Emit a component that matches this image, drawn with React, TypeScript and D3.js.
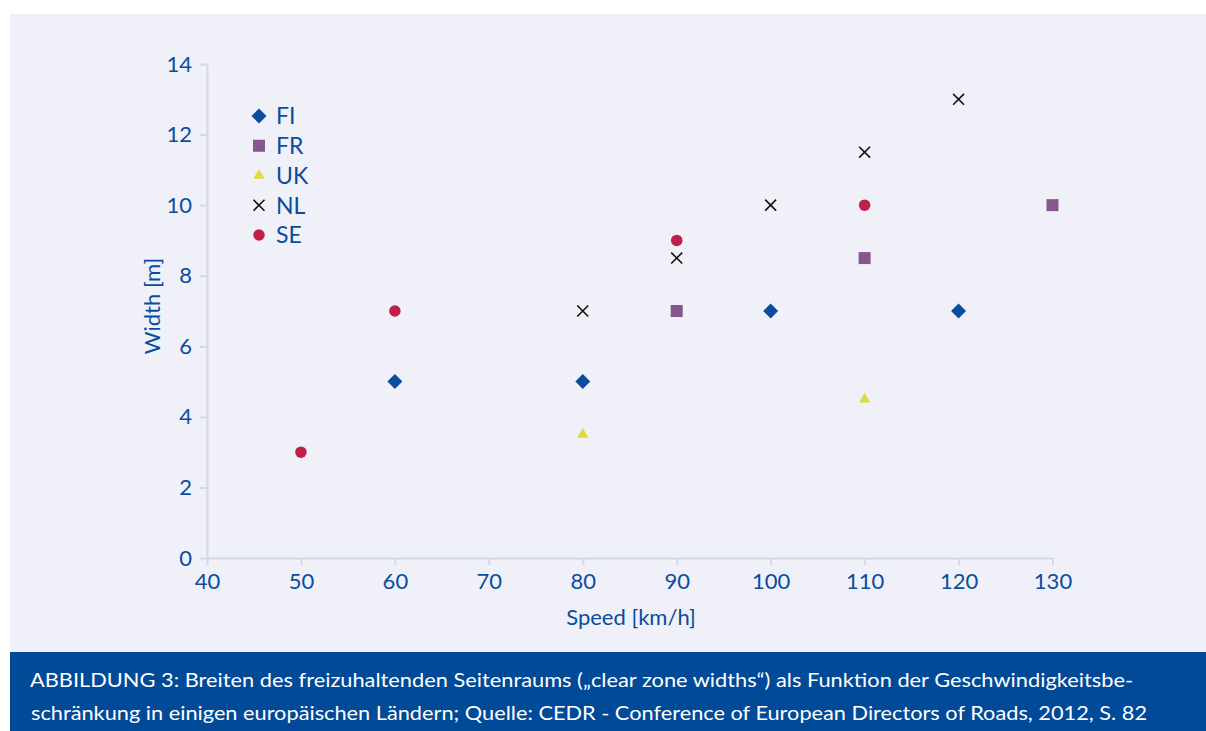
import { useEffect, useRef } from "react"
import * as d3 from "d3"

// series
const countries = ["FI", "FR", "UK", "NL", "SE"]
const fiSpeed = [60, 80, 100, 120]
const fiWidth = [5, 5, 7, 7]
const frSpeed = [90, 110, 130]
const frWidth = [7, 8.5, 10]
const ukSpeed = [80, 110]
const ukWidth = [3.5, 4.5]
const nlSpeed = [80, 90, 100, 110, 120]
const nlWidth = [7, 8.5, 10, 11.5, 13]
const seSpeed = [50, 60, 90, 110]
const seWidth = [3, 7, 9, 10]

const xTicks = [40, 50, 60, 70, 80, 90, 100, 110, 120, 130]
const yTicks = [0, 2, 4, 6, 8, 10, 12, 14]

const captionLines = [
  "ABBILDUNG 3: Breiten des freizuhaltenden Seitenraums (\u201Eclear zone widths\u201C) als Funktion der Geschwindigkeitsbe-",
  "schr\u00E4nkung in einigen europ\u00E4ischen L\u00E4ndern; Quelle: CEDR - Conference of European Directors of Roads, 2012, S. 82",
]

const W = 1206
const H = 731
const BLUE = "#0b4c9e"
const AXIS = "#d4d6ec"
const FONT = "Lato, 'Open Sans', sans-serif"

const styles: Record<string, { fill: string; stroke?: string; type: d3.SymbolType; size: number; rotate?: number }> = {
  FI: { fill: "#0a4d9c", type: d3.symbolSquare, size: 112, rotate: 45 },
  FR: { fill: "#86578d", type: d3.symbolSquare, size: 144 },
  UK: { fill: "#dcdc3c", type: d3.symbolTriangle, size: 55 },
  NL: { fill: "none", stroke: "#111", type: d3.symbolX, size: 80 },
  SE: { fill: "#c01f4a", type: d3.symbolCircle, size: 104 },
}

const series = [
  { key: "FI", xs: fiSpeed, ys: fiWidth },
  { key: "FR", xs: frSpeed, ys: frWidth },
  { key: "UK", xs: ukSpeed, ys: ukWidth },
  { key: "NL", xs: nlSpeed, ys: nlWidth },
  { key: "SE", xs: seSpeed, ys: seWidth },
]

export default function App() {
  const xAxisRef = useRef<SVGGElement>(null)
  const yAxisRef = useRef<SVGGElement>(null)

  const x = d3.scaleLinear().domain([40, 130]).range([207, 1052.5])
  const y = d3.scaleLinear().domain([0, 14]).range([558, 64])
  const legendY = d3.scalePoint<string>().domain(countries).range([116, 235])

  useEffect(() => {
    const styleAxis = (g: d3.Selection<SVGGElement, unknown, null, undefined>) => {
      g.select(".domain").attr("stroke", AXIS).attr("stroke-width", 2)
      g.selectAll(".tick line").attr("stroke", AXIS).attr("stroke-width", 2)
      g.selectAll(".tick text")
        .attr("fill", BLUE)
        .attr("font-family", FONT)
        .attr("font-size", 22)
    }
    if (xAxisRef.current) {
      const g = d3.select(xAxisRef.current)
      g.selectAll("*").remove()
      g.call(d3.axisBottom(x).tickValues(xTicks).tickSize(7).tickSizeOuter(0).tickPadding(8))
      g.attr("font-family", null).attr("font-size", null)
      styleAxis(g)
    }
    if (yAxisRef.current) {
      const g = d3.select(yAxisRef.current)
      g.selectAll("*").remove()
      g.call(d3.axisLeft(y).tickValues(yTicks).tickSize(7).tickSizeOuter(0).tickPadding(8))
      g.attr("font-family", null).attr("font-size", null)
      styleAxis(g)
    }
  }, [])

  const symbolPath = (key: string) => d3.symbol().type(styles[key].type).size(styles[key].size)() || ""

  const marker = (key: string, cx: number, cy: number, i: number) => {
    const s = styles[key]
    return (
      <path
        key={`${key}-${i}`}
        d={symbolPath(key)}
        transform={`translate(${cx},${cy})${s.rotate ? ` rotate(${s.rotate})` : ""}`}
        fill={s.fill}
        stroke={s.stroke || "none"}
        strokeWidth={s.stroke ? 1.6 : 0}
      />
    )
  }

  return (
    <svg
      width={W}
      height={H}
      style={{ position: "absolute", left: 0, top: 0, display: "block" }}
      fontFamily={FONT}
    >
      <rect x={0} y={0} width={W} height={H} fill="#ffffff" />
      <rect x={10} y={14} width={W - 10} height={638} fill="#eff0f8" />

      <g ref={xAxisRef} transform={`translate(0,${y(0)})`} />
      <g ref={yAxisRef} transform={`translate(${x(40)},0)`} />

      {series.map((s) => s.xs.map((v, i) => marker(s.key, x(v), y(s.ys[i]), i)))}

      {countries.map((c, i) => (
        <g key={c}>
          {marker(c, 259, legendY(c) as number, 100 + i)}
          <text x={276} y={legendY(c) as number} dy="0.36em" fill={BLUE} fontSize={23}>
            {c}
          </text>
        </g>
      ))}

      <text
        transform={`translate(152,306) rotate(-90)`}
        textAnchor="middle"
        dy="0.36em"
        fill={BLUE}
        fontSize={22}
      >
        Width [m]
      </text>
      <text x={631} y={625} textAnchor="middle" fill={BLUE} fontSize={22}>
        Speed [km/h]
      </text>

      <rect x={10} y={652} width={W - 10} height={H - 652} fill="#004a98" />
      <text
        x={30}
        y={687}
        fill="#ffffff"
        fontSize={20}
        textLength={1103}
        lengthAdjust="spacingAndGlyphs"
      >
        {captionLines[0]}
      </text>
      <text
        x={31}
        y={720}
        fill="#ffffff"
        fontSize={20}
        textLength={1116}
        lengthAdjust="spacingAndGlyphs"
      >
        {captionLines[1]}
      </text>
    </svg>
  )
}
